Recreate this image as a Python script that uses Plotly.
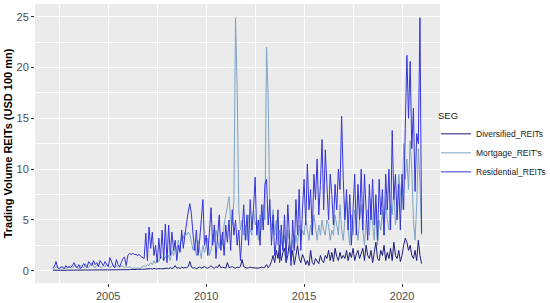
import pandas as pd
import plotly.graph_objects as go

# ggplot-like grey theme
PANEL_BG = "#EBEBEB"
GRID     = "#FFFFFF"
TICK_TXT = "#4D4D4D"
FONT     = "Liberation Sans, Arial, sans-serif"

SERIES_NAMES  = ["Diversified_REITs", "Mortgage_REIT's", "Residential_REITs"]
SERIES_COLORS = ["#1C1C78", "#7EA3C6", "#3434DC"]

# monthly observations, Mar 2002 .. Jan 2021
months = pd.date_range("2002-03-01", "2021-01-01", freq="MS")

diversified = [
    0.05, 0.04, 0.06, 0.05, 0.04, 0.05, 0.06, 0.05, 0.04, 0.05,                      # 2002
    0.05, 0.06, 0.04, 0.05, 0.05, 0.06, 0.04, 0.05, 0.06, 0.05, 0.04, 0.05,          # 2003
    0.06, 0.05, 0.05, 0.04, 0.06, 0.05, 0.05, 0.06, 0.04, 0.05, 0.06, 0.05,          # 2004
    0.05, 0.06, 0.05, 0.07, 0.05, 0.06, 0.08, 0.06, 0.07, 0.05, 0.08, 0.07,          # 2005
    0.08, 0.10, 0.12, 0.10, 0.14, 0.12, 0.15, 0.13, 0.16, 0.14, 0.15, 0.17,          # 2006
    0.15, 0.18, 0.20, 0.16, 0.22, 0.18, 0.20, 0.25, 0.20, 0.18, 0.22, 0.20,          # 2007
    0.25, 0.20, 0.30, 0.22, 0.28, 0.50, 0.25, 0.30, 0.22, 0.35, 0.28, 0.30,          # 2008
    0.30, 0.40, 0.90, 0.35, 0.25, 0.30, 0.20, 0.28, 0.35, 0.25, 0.30, 0.40,          # 2009
    0.30, 0.25, 0.35, 0.50, 0.30, 0.25, 0.40, 0.30, 0.60, 0.30, 0.35, 0.30,          # 2010
    0.25, 0.80, 0.30, 0.35, 0.40, 0.30, 0.25, 0.35, 0.30, 0.40, 1.10, 0.40,          # 2011
    0.30, 0.25, 0.30, 0.35, 0.30, 0.28, 0.32, 0.30, 0.25, 0.30, 0.35, 0.30,          # 2012
    0.35, 0.60, 0.30, 0.50, 0.90, 1.50, 0.80, 2.00, 1.20, 2.50, 1.00, 1.80,          # 2013
    2.20, 0.80, 1.50, 2.80, 1.00, 2.00, 0.60, 1.50, 2.50, 1.20, 0.80, 1.60,          # 2014
    1.20, 0.60, 1.00, 0.50, 2.00, 0.80, 0.60, 1.20, 0.90, 0.70, 1.50, 1.00,          # 2015
    0.80, 1.50, 1.20, 2.00, 1.00, 1.80, 0.90, 2.20, 1.40, 1.00, 1.80, 1.20,          # 2016
    1.50, 1.20, 2.00, 1.00, 1.80, 1.30, 2.20, 1.00, 1.60, 2.00, 1.20, 1.80,          # 2017
    2.20, 1.00, 2.50, 1.50, 1.20, 2.00, 0.80, 1.80, 2.80, 1.20, 1.00, 2.00,          # 2018
    1.50, 2.50, 1.00, 1.80, 1.20, 2.20, 1.00, 2.80, 1.50, 1.20, 2.00, 0.90,          # 2019
    1.50, 2.50, 3.20, 2.80, 2.00, 2.50, 1.50, 1.20, 2.00, 1.00, 3.00, 1.50,          # 2020
    0.70,                                                                            # 2021
]

mortgage = [
    0.3, 0.2, 0.4, 0.3, 0.2, 0.3, 0.4, 0.3, 0.2, 0.4,                # 2002
    0.3, 0.5, 0.3, 0.4, 0.6, 0.3, 0.2, 0.5, 0.4, 0.3, 0.7, 0.4,      # 2003
    0.3, 0.5, 0.8, 0.4, 0.3, 0.6, 0.5, 0.4, 0.3, 0.5, 0.4, 0.6,      # 2004
    0.5, 0.3, 0.4, 0.6, 0.3, 0.5, 0.4, 0.3, 0.5, 0.4, 0.3, 0.4,      # 2005
    0.3, 0.4, 0.3, 0.2, 0.3, 0.2, 0.3, 0.2, 0.3, 0.4, 0.5, 0.4,      # 2006
    0.6, 0.5, 0.8, 0.6, 1.0, 0.7, 1.2, 0.9, 1.5, 1.2, 1.0, 1.4,      # 2007
    1.2, 1.5, 1.0, 2.0, 1.5, 2.5, 2.0, 3.0, 2.0, 3.5, 3.2, 3.8,      # 2008
    3.5, 3.8, 3.6, 2.8, 2.0, 2.5, 1.5, 3.0, 2.0, 1.2, 2.5, 1.8,      # 2009
    2.5, 3.2, 1.5, 2.0, 3.5, 2.8, 4.0, 3.0, 2.2, 3.5, 2.5, 4.5,      # 2010
    5.5, 6.5, 7.3, 5.0, 4.5, 7.0, 24.9, 18.0, 6.0, 4.0, 5.0, 3.5,    # 2011
    4.5, 3.0, 5.5, 4.0, 3.5, 6.0, 4.5, 5.0, 3.0, 5.5, 4.0, 6.5,      # 2012
    5.0, 22.0, 17.0, 5.5, 4.0, 6.0, 3.5, 5.0, 2.5, 4.0, 3.0, 2.0,    # 2013
    3.5, 2.0, 4.0, 2.5, 1.5, 3.0, 2.0, 3.5, 2.5, 4.5, 3.0, 4.0,      # 2014
    3.5, 5.0, 4.0, 3.0, 4.5, 3.5, 5.5, 4.0, 3.0, 4.5, 3.5, 5.0,      # 2015
    4.0, 3.5, 5.0, 4.5, 3.0, 4.0, 3.5, 5.5, 4.5, 3.5, 6.5, 4.0,      # 2016
    3.0, 5.0, 7.0, 4.0, 2.5, 5.5, 3.5, 6.0, 4.5, 3.0, 5.0, 6.5,      # 2017
    4.0, 2.5, 5.0, 6.0, 3.5, 7.0, 4.5, 3.0, 6.5, 2.5, 5.0, 4.0,      # 2018
    6.0, 3.5, 7.0, 5.0, 4.0, 6.5, 5.5, 8.0, 4.5, 6.0, 9.5, 7.5,      # 2019
    6.0, 12.5, 9.0, 11.0, 8.0, 12.8, 10.0, 5.0, 3.0, 6.5, 12.0, 8.5, # 2020
    3.5,                                                             # 2021
]

residential = [
    0.3, 0.4, 0.9, 0.3, 0.2, 0.4, 0.3, 0.2, 0.5, 0.3,                  # 2002
    0.4, 0.3, 0.5, 0.8, 0.4, 0.3, 0.6, 0.2, 0.4, 0.7, 0.5, 0.3,        # 2003
    0.9, 0.7, 0.5, 1.0, 0.6, 0.8, 0.4, 1.0, 0.7, 0.5, 0.9, 0.6,        # 2004
    0.4, 1.3, 0.8, 0.5, 0.3, 1.1, 0.6, 0.4, 0.8, 1.2, 1.35, 0.5,       # 2005
    1.5, 1.7, 1.6, 1.7, 1.6, 1.6, 1.5, 1.6, 1.4, 1.3, 1.2, 3.7,        # 2006
    1.0, 4.3, 2.2, 3.8, 1.5, 2.5, 0.8, 3.2, 1.2, 4.0, 1.0, 4.6,        # 2007
    0.8, 4.5, 1.5, 3.8, 2.0, 3.0, 1.0, 2.5, 1.8, 4.0, 2.2, 3.5,        # 2008
    4.8, 5.8, 6.6, 5.5, 3.5, 2.0, 4.0, 1.5, 3.0, 5.0, 7.0, 2.5,        # 2009
    3.5, 1.5, 4.0, 6.2, 2.5, 4.5, 1.2, 3.0, 5.5, 2.0, 3.8, 1.5,        # 2010
    4.5, 2.8, 5.0, 2.0, 6.0, 3.5, 5.0, 2.5, 4.0, 1.0, 3.5, 6.5,        # 2011
    3.0, 5.5, 2.5, 7.0, 4.0, 6.0, 9.2, 3.5, 5.0, 2.5, 6.5, 4.0,        # 2012
    8.5, 9.0, 4.5, 7.0, 2.5, 5.5, 1.5, 3.0, 6.0, 0.8, 4.5, 2.0,        # 2013
    5.5, 1.0, 6.5, 3.0, 0.5, 5.0, 2.0, 7.0, 3.5, 8.0, 2.0, 6.0,        # 2014
    9.0, 4.5, 10.5, 6.0, 8.0, 3.5, 9.5, 7.0, 11.0, 5.5, 8.5, 12.9,     # 2015
    6.0, 11.9, 8.0, 5.0, 9.5, 7.5, 4.5, 8.5, 6.0, 10.0, 8.0, 15.2,     # 2016
    9.0, 5.0, 8.0, 4.0, 7.5, 2.5, 6.0, 9.5, 3.5, 8.5, 5.0, 10.0,       # 2017
    4.0, 9.5, 6.0, 3.0, 8.5, 5.0, 9.0, 4.5, 7.5, 3.0, 9.0, 5.5,        # 2018
    8.0, 3.5, 9.5, 6.0, 10.0, 4.0, 13.8, 7.0, 9.5, 5.0, 8.5, 4.0,      # 2019
    9.5, 6.0, 14.0, 21.2, 15.0, 20.6, 12.0, 16.0, 7.8, 13.5, 12.5, 24.9,  # 2020
    3.7,                                                               # 2021
]

# decimal-year position of each month
x_years = months.year + (months.month - 1) / 12.0

fig = go.Figure()

for name, color, vals in zip(SERIES_NAMES, SERIES_COLORS, [diversified, mortgage, residential]):
    fig.add_trace(go.Scatter(
        x=x_years, y=vals, name=name, mode="lines",
        line=dict(color=color, width=1),
    ))

fig.update_layout(
    width=550, height=303,
    paper_bgcolor="white",
    plot_bgcolor=PANEL_BG,
    font=dict(family=FONT, color="#1A1A1A"),
    margin=dict(l=35, r=110, t=4, b=20, autoexpand=False),
    showlegend=True,
    legend=dict(
        xref="container", yref="container",
        x=436 / 550, y=1 - 107 / 303, xanchor="left", yanchor="top",
        title=dict(text="SEG", font=dict(size=9.5, color="#1A1A1A")),
        font=dict(size=8.5, color="#1A1A1A"),
        bgcolor="rgba(0,0,0,0)", itemwidth=30, tracegroupgap=0,
    ),
    xaxis=dict(
        range=[2001.26, 2021.94], tickmode="array",
        tickvals=[2005, 2010, 2015, 2020],
        ticktext=["2005", "2010", "2015", "2020"],
        ticks="outside", ticklen=3, tickcolor="#333333",
        tickfont=dict(size=11, color=TICK_TXT),
        showgrid=True, gridcolor=GRID, gridwidth=1.1,
        minor=dict(tickmode="array", tickvals=[2002.5, 2007.5, 2012.5, 2017.5],
                   showgrid=True, gridcolor=GRID, gridwidth=0.5, ticks=""),
        zeroline=False, showline=False, automargin=False,
    ),
    yaxis=dict(
        range=[-1.21, 26.25], tickmode="array",
        tickvals=[0, 5, 10, 15, 20, 25],
        ticks="outside", ticklen=3, tickcolor="#333333",
        tickfont=dict(size=11, color=TICK_TXT),
        showgrid=True, gridcolor=GRID, gridwidth=1.1,
        minor=dict(tickmode="array", tickvals=[2.5, 7.5, 12.5, 17.5, 22.5],
                   showgrid=True, gridcolor=GRID, gridwidth=0.5, ticks=""),
        zeroline=False, showline=False, automargin=False,
        title=dict(text="<b>Trading Volume REITs (USD 100 mn)</b>",
                   font=dict(size=11, color="#000000"), standoff=1),
    ),
)

# drop the default 8px page margin so the figure sits at the window's corner
fig.write_html(
    "out.html",
    config={"displayModeBar": False},
    post_script="document.body.style.margin='0';",
)
